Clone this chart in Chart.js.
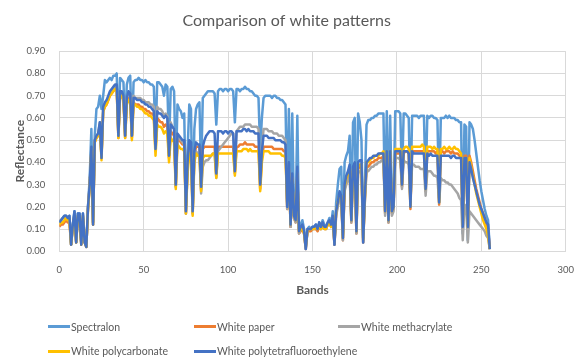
<!DOCTYPE html>
<html>
<head>
<meta charset="utf-8">
<script src="https://cdn.jsdelivr.net/npm/chart.js@4.4.0/dist/chart.umd.min.js"></script>
<style>
  body { margin: 0; background: #fff; }
  #wrap { position: relative; width: 587px; height: 357px; font-family: Lato, "Open Sans", sans-serif; }
  #chart { position: absolute; left: 0; top: 0; }
  .item { position: absolute; font-size: 10.5px; color: #595959; white-space: nowrap; line-height: 12px; }
  .item span.swatch { display: inline-block; width: 22px; height: 3px; vertical-align: middle; margin-right: 1px; position: relative; top: -1px; }
</style>
</head>
<body>
<div id="wrap">
  <canvas id="chart" width="587" height="357"></canvas>
  <div id="legend"></div>
</div>
<script>
// reflectance per band
const spectralon = [
  0.13,0.14,0.15,0.16,0.16,0.15,0.16,0.03,0.12,0.18,0.04,0.17,0.17,0.04,0.17,0.05,
  0.02,0.20,0.33,0.55,0.13,0.52,0.64,0.65,0.70,0.64,0.70,0.77,0.76,0.77,0.78,0.77,
  0.79,0.79,0.80,0.54,0.78,0.77,0.76,0.55,0.75,0.78,0.79,0.52,0.76,0.77,0.77,0.78,
  0.77,0.77,0.76,0.77,0.76,0.76,0.75,0.75,0.74,0.50,0.76,0.76,0.75,0.74,0.70,0.75,
  0.74,0.47,0.73,0.74,0.72,0.35,0.66,0.64,0.63,0.60,0.62,0.20,0.45,0.66,0.64,0.19,
  0.55,0.64,0.66,0.67,0.35,0.69,0.70,0.71,0.72,0.72,0.72,0.72,0.71,0.57,0.72,0.73,
  0.73,0.72,0.73,0.73,0.72,0.73,0.73,0.72,0.58,0.73,0.73,0.72,0.73,0.73,0.74,0.73,
  0.73,0.72,0.72,0.71,0.70,0.70,0.69,0.45,0.60,0.69,0.70,0.70,0.70,0.70,0.69,0.70,
  0.70,0.69,0.69,0.68,0.68,0.67,0.66,0.22,0.64,0.13,0.62,0.18,0.15,0.61,0.10,0.12,
  0.14,0.10,0.02,0.10,0.11,0.10,0.11,0.11,0.12,0.10,0.13,0.11,0.14,0.12,0.11,0.13,
  0.15,0.12,0.18,0.03,0.22,0.30,0.37,0.38,0.08,0.40,0.43,0.45,0.52,0.15,0.58,0.60,
  0.10,0.62,0.58,0.50,0.06,0.30,0.57,0.59,0.59,0.60,0.60,0.61,0.61,0.62,0.62,0.62,
  0.62,0.20,0.63,0.16,0.61,0.20,0.22,0.63,0.63,0.63,0.62,0.33,0.62,0.62,0.61,0.60,
  0.22,0.61,0.61,0.61,0.61,0.60,0.61,0.61,0.61,0.30,0.61,0.60,0.61,0.61,0.60,0.60,
  0.59,0.24,0.60,0.60,0.60,0.61,0.60,0.61,0.60,0.60,0.60,0.59,0.59,0.58,0.58,0.08,
  0.57,0.56,0.05,0.58,0.57,0.55,0.50,0.44,0.38,0.32,0.27,0.23,0.19,0.16,0.14,0.01
];
const whitePaper = [
  0.11,0.12,0.12,0.13,0.14,0.13,0.13,0.03,0.11,0.15,0.04,0.15,0.15,0.03,0.15,0.04,
  0.02,0.19,0.29,0.45,0.12,0.49,0.51,0.52,0.57,0.42,0.63,0.65,0.66,0.68,0.70,0.71,
  0.72,0.73,0.73,0.51,0.70,0.70,0.68,0.51,0.67,0.69,0.69,0.51,0.67,0.66,0.66,0.66,
  0.65,0.65,0.64,0.64,0.63,0.63,0.62,0.62,0.61,0.45,0.60,0.59,0.58,0.58,0.56,0.57,
  0.56,0.42,0.54,0.53,0.52,0.29,0.51,0.50,0.49,0.48,0.48,0.17,0.38,0.48,0.47,0.17,
  0.43,0.47,0.47,0.47,0.28,0.46,0.47,0.47,0.47,0.47,0.47,0.47,0.47,0.34,0.47,0.47,
  0.47,0.47,0.47,0.47,0.47,0.47,0.47,0.47,0.35,0.47,0.47,0.48,0.48,0.48,0.49,0.48,
  0.48,0.48,0.48,0.48,0.47,0.47,0.47,0.28,0.42,0.47,0.47,0.47,0.47,0.47,0.47,0.46,
  0.46,0.46,0.46,0.46,0.46,0.45,0.45,0.19,0.37,0.11,0.33,0.15,0.13,0.35,0.08,0.09,
  0.10,0.08,0.01,0.09,0.09,0.09,0.10,0.10,0.10,0.09,0.11,0.10,0.12,0.10,0.10,0.12,
  0.13,0.11,0.15,0.03,0.17,0.21,0.25,0.24,0.05,0.28,0.32,0.34,0.36,0.13,0.36,0.37,
  0.08,0.37,0.38,0.38,0.04,0.23,0.38,0.38,0.39,0.40,0.40,0.41,0.41,0.42,0.42,0.42,
  0.43,0.17,0.43,0.13,0.43,0.17,0.19,0.44,0.44,0.44,0.44,0.29,0.44,0.45,0.45,0.44,
  0.19,0.45,0.45,0.45,0.45,0.45,0.45,0.45,0.45,0.27,0.45,0.45,0.45,0.45,0.45,0.44,
  0.45,0.21,0.45,0.45,0.44,0.45,0.45,0.45,0.44,0.45,0.44,0.44,0.44,0.43,0.43,0.11,
  0.43,0.43,0.11,0.43,0.40,0.36,0.32,0.28,0.25,0.22,0.19,0.17,0.15,0.12,0.10,0.01
];
const whiteMethacrylate = [
  0.14,0.14,0.15,0.15,0.16,0.15,0.15,0.03,0.12,0.17,0.04,0.16,0.16,0.04,0.16,0.04,
  0.02,0.20,0.30,0.46,0.13,0.50,0.52,0.53,0.58,0.43,0.64,0.66,0.67,0.69,0.71,0.72,
  0.73,0.74,0.74,0.52,0.71,0.71,0.70,0.52,0.69,0.71,0.71,0.52,0.70,0.69,0.69,0.69,
  0.69,0.68,0.68,0.67,0.67,0.67,0.66,0.66,0.65,0.46,0.65,0.64,0.64,0.63,0.61,0.62,
  0.61,0.43,0.58,0.56,0.55,0.29,0.52,0.51,0.50,0.49,0.48,0.17,0.38,0.47,0.46,0.17,
  0.42,0.45,0.44,0.43,0.26,0.38,0.40,0.41,0.41,0.42,0.43,0.44,0.44,0.33,0.45,0.46,
  0.47,0.48,0.49,0.50,0.51,0.52,0.53,0.53,0.38,0.54,0.55,0.56,0.56,0.56,0.57,0.57,
  0.57,0.57,0.56,0.56,0.56,0.56,0.55,0.32,0.46,0.55,0.55,0.55,0.54,0.54,0.54,0.53,
  0.53,0.53,0.52,0.52,0.52,0.51,0.50,0.19,0.38,0.11,0.33,0.15,0.13,0.35,0.08,0.10,
  0.11,0.08,0.01,0.09,0.10,0.10,0.10,0.10,0.11,0.10,0.12,0.10,0.12,0.11,0.10,0.12,
  0.13,0.11,0.15,0.03,0.16,0.20,0.24,0.23,0.05,0.27,0.30,0.32,0.34,0.13,0.34,0.35,
  0.08,0.35,0.36,0.36,0.04,0.22,0.36,0.36,0.37,0.38,0.38,0.39,0.39,0.40,0.40,0.41,
  0.41,0.16,0.42,0.13,0.42,0.16,0.18,0.42,0.42,0.42,0.41,0.28,0.41,0.40,0.40,0.39,
  0.23,0.39,0.39,0.38,0.38,0.38,0.37,0.37,0.37,0.25,0.36,0.36,0.36,0.35,0.34,0.34,
  0.33,0.22,0.33,0.32,0.32,0.31,0.31,0.30,0.30,0.29,0.28,0.27,0.26,0.24,0.23,0.05,
  0.21,0.20,0.04,0.18,0.17,0.16,0.15,0.14,0.13,0.12,0.11,0.10,0.09,0.07,0.06,0.01
];
const whitePolycarbonate = [
  0.12,0.13,0.13,0.14,0.15,0.14,0.14,0.03,0.11,0.16,0.04,0.16,0.16,0.03,0.16,0.04,
  0.02,0.19,0.29,0.45,0.12,0.49,0.51,0.52,0.56,0.41,0.63,0.65,0.66,0.68,0.70,0.71,
  0.72,0.73,0.73,0.51,0.70,0.70,0.68,0.51,0.66,0.68,0.68,0.50,0.66,0.66,0.65,0.65,
  0.64,0.64,0.63,0.62,0.62,0.61,0.61,0.60,0.59,0.43,0.57,0.56,0.56,0.55,0.53,0.54,
  0.53,0.40,0.51,0.50,0.49,0.28,0.48,0.47,0.46,0.46,0.45,0.17,0.35,0.44,0.44,0.16,
  0.40,0.44,0.43,0.43,0.27,0.42,0.43,0.43,0.43,0.43,0.43,0.44,0.44,0.33,0.44,0.44,
  0.44,0.44,0.44,0.44,0.44,0.44,0.44,0.44,0.34,0.45,0.45,0.45,0.45,0.46,0.46,0.46,
  0.45,0.46,0.45,0.45,0.45,0.45,0.45,0.27,0.40,0.45,0.45,0.45,0.45,0.44,0.44,0.44,
  0.44,0.44,0.44,0.44,0.43,0.43,0.42,0.21,0.35,0.12,0.32,0.16,0.14,0.34,0.09,0.10,
  0.10,0.08,0.02,0.09,0.10,0.10,0.10,0.10,0.11,0.10,0.11,0.10,0.12,0.10,0.10,0.12,
  0.13,0.11,0.15,0.04,0.18,0.22,0.26,0.25,0.06,0.29,0.33,0.35,0.37,0.14,0.37,0.38,
  0.09,0.38,0.39,0.39,0.05,0.24,0.40,0.40,0.41,0.42,0.42,0.43,0.43,0.43,0.44,0.44,
  0.45,0.18,0.45,0.14,0.45,0.18,0.20,0.46,0.46,0.46,0.46,0.30,0.46,0.47,0.47,0.46,
  0.20,0.47,0.47,0.47,0.47,0.47,0.47,0.48,0.47,0.28,0.47,0.47,0.47,0.46,0.47,0.46,
  0.46,0.22,0.46,0.46,0.47,0.46,0.46,0.47,0.46,0.46,0.47,0.46,0.46,0.45,0.44,0.12,
  0.42,0.42,0.11,0.42,0.38,0.34,0.30,0.26,0.23,0.20,0.17,0.14,0.12,0.10,0.07,0.01
];
const whitePTFE = [
  0.13,0.14,0.15,0.16,0.16,0.15,0.16,0.03,0.12,0.18,0.04,0.17,0.17,0.03,0.17,0.04,
  0.02,0.20,0.30,0.47,0.12,0.50,0.52,0.53,0.58,0.42,0.65,0.67,0.68,0.70,0.72,0.73,
  0.74,0.75,0.75,0.52,0.72,0.72,0.70,0.52,0.69,0.72,0.71,0.52,0.69,0.69,0.68,0.68,
  0.68,0.67,0.67,0.66,0.66,0.65,0.65,0.64,0.63,0.46,0.63,0.62,0.62,0.61,0.60,0.61,
  0.60,0.43,0.57,0.56,0.55,0.30,0.53,0.52,0.51,0.50,0.50,0.18,0.40,0.50,0.49,0.18,
  0.45,0.49,0.48,0.48,0.29,0.47,0.50,0.52,0.53,0.54,0.54,0.54,0.53,0.35,0.54,0.54,
  0.54,0.53,0.54,0.54,0.53,0.54,0.54,0.53,0.36,0.54,0.54,0.54,0.54,0.55,0.55,0.54,
  0.55,0.54,0.54,0.54,0.53,0.53,0.53,0.30,0.45,0.52,0.52,0.52,0.51,0.51,0.51,0.51,
  0.50,0.50,0.50,0.50,0.49,0.49,0.48,0.20,0.40,0.12,0.35,0.16,0.14,0.38,0.09,0.11,
  0.12,0.09,0.01,0.10,0.10,0.10,0.11,0.11,0.12,0.10,0.13,0.11,0.13,0.11,0.11,0.13,
  0.14,0.12,0.16,0.03,0.18,0.22,0.27,0.25,0.06,0.30,0.34,0.36,0.39,0.14,0.38,0.40,
  0.09,0.40,0.41,0.41,0.04,0.25,0.40,0.41,0.42,0.42,0.43,0.43,0.43,0.44,0.44,0.44,
  0.44,0.18,0.45,0.14,0.45,0.18,0.20,0.45,0.45,0.45,0.45,0.30,0.45,0.45,0.45,0.44,
  0.20,0.45,0.44,0.44,0.44,0.44,0.44,0.44,0.44,0.28,0.44,0.43,0.44,0.43,0.43,0.43,
  0.43,0.22,0.43,0.43,0.43,0.43,0.43,0.43,0.42,0.43,0.43,0.42,0.42,0.42,0.42,0.11,
  0.42,0.42,0.11,0.40,0.37,0.33,0.30,0.27,0.24,0.21,0.19,0.17,0.15,0.13,0.12,0.01
];
const bands = spectralon.map((_, i) => i);
const xTicks = [0, 50, 100, 150, 200, 250, 300];
const yTicks = [0, 0.1, 0.2, 0.3, 0.4, 0.5, 0.6, 0.7, 0.8, 0.9];

const seriesNames = ["Spectralon", "White paper", "White methacrylate", "White polycarbonate", "White polytetrafluoroethylene"];
const seriesData = [spectralon, whitePaper, whiteMethacrylate, whitePolycarbonate, whitePTFE];
const seriesColors = ["#5B9BD5", "#ED7D31", "#A5A5A5", "#FFC000", "#4472C4"];

const FONT = "Lato, 'Open Sans', sans-serif";
const GRID = "#D9D9D9";
const TXT = "#595959";

const datasets = seriesNames.map((name, i) => ({
  label: name,
  data: seriesData[i],
  borderColor: seriesColors[i],
  backgroundColor: seriesColors[i],
  borderWidth: 2.5,
  pointRadius: 0,
  tension: 0,
  borderJoinStyle: "round",
  // last series painted on top, like the spreadsheet
  order: seriesNames.length - i,
}));

new Chart(document.getElementById("chart"), {
  type: "line",
  data: { labels: bands, datasets: datasets },
  options: {
    responsive: false,
    animation: false,
    layout: { padding: { left: 0, right: 13.7, top: 0, bottom: 55.6 } },
    plugins: {
      legend: { display: false },
      tooltip: { enabled: false },
      title: {
        display: true,
        text: "Comparison of white patterns",
        color: TXT,
        font: { family: FONT, size: 16, weight: "normal" },
        padding: { top: 11, bottom: 21 },
      },
    },
    scales: {
      x: {
        type: "linear",
        min: 0,
        max: 300,
        afterBuildTicks: (s) => { s.ticks = xTicks.map((v) => ({ value: v })); },
        ticks: { color: TXT, font: { family: FONT, size: 9.5 }, padding: 13, maxRotation: 0 },
        grid: { color: GRID, drawTicks: false },
        border: { color: GRID },
        title: {
          display: true,
          text: "Bands",
          color: TXT,
          font: { family: FONT, size: 12, weight: "bold" },
          padding: { top: -5.7, bottom: 4 },
        },
      },
      y: {
        min: 0,
        max: 0.9,
        afterBuildTicks: (s) => { s.ticks = yTicks.map((v) => ({ value: v })); },
        afterFit: (s) => { s.width = 59.3; },
        ticks: {
          color: TXT,
          font: { family: FONT, size: 9.5 },
          padding: 14,
          callback: (v) => v.toFixed(2),
        },
        grid: { color: GRID, drawTicks: false },
        border: { color: GRID },
        title: {
          display: true,
          text: "Reflectance",
          color: TXT,
          font: { family: FONT, size: 12, weight: "bold" },
          padding: { top: 13, bottom: 0 },
        },
      },
    },
  },
});

// legend laid out in columns like the original
const legendPos = [[48, 320.5], [194, 320.5], [338, 320.5], [48, 345], [194, 345]];
const legend = document.getElementById("legend");
seriesNames.forEach((name, i) => {
  const d = document.createElement("div");
  d.className = "item";
  d.style.left = legendPos[i][0] + "px";
  d.style.top = legendPos[i][1] + "px";
  d.innerHTML = '<span class="swatch" style="background:' + seriesColors[i] + '"></span>' + name;
  legend.appendChild(d);
});
</script>
</body>
</html>
